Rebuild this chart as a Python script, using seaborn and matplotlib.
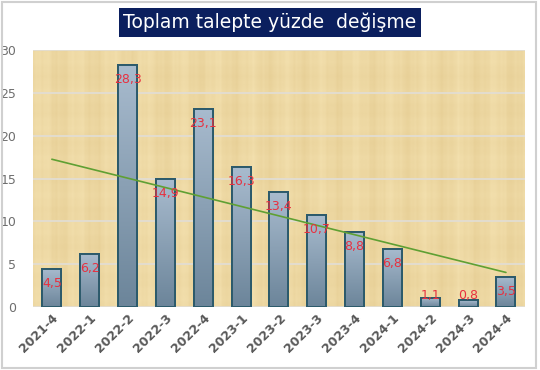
import numpy as np
import pandas as pd
import matplotlib
matplotlib.use('Agg')
import matplotlib.pyplot as plt
import seaborn as sns
from matplotlib.colors import LinearSegmentedColormap
from matplotlib.patches import Rectangle

# data
periods = ['2021-4', '2022-1', '2022-2', '2022-3', '2022-4', '2023-1', '2023-2',
           '2023-3', '2023-4', '2024-1', '2024-2', '2024-3', '2024-4']
change = [4.5, 6.2, 28.3, 14.9, 23.1, 16.3, 13.4, 10.7, 8.8, 6.8, 1.1, 0.8, 3.5]
title = 'Toplam talepte yüzde  değişme'

df = pd.DataFrame({'period': periods, 'change': change})
df['pos'] = np.arange(len(df))

sns.set_theme(style='white')
plt.rcParams['font.family'] = ['DejaVu Sans']

fig = plt.figure(figsize=(5.4, 3.7), dpi=100)
ax = fig.add_axes([0.061, 0.170, 0.911, 0.695])

ax.set_facecolor('#F0DBA4')
# faint papyrus-like streaks
cols = np.arange(240)
rows = np.arange(90)
streak = (np.sin(cols * 0.37) + np.sin(cols * 1.13) * 0.6 + np.sin(cols * 2.71) * 0.4)
band = (np.sin(rows * 0.53) + np.sin(rows * 1.9) * 0.5)
weave = streak[None, :] * 0.7 + band[:, None] * 0.3
paper = LinearSegmentedColormap.from_list('paper', ['#E7CF96', '#F3E0AE'])
ax.imshow(weave, cmap=paper, aspect='auto', extent=(-0.5, 12.5, 0, 30),
          zorder=0, interpolation='bilinear')

sns.barplot(data=df, x='period', y='change', color='#8FA6BC', width=0.5,
            edgecolor='#2C5A6B', linewidth=1.4, saturation=1, ax=ax, zorder=3)

# vertical gradient inside the bars
grad = LinearSegmentedColormap.from_list('bar', ['#6C859A', '#A8BBCE'])
g = np.linspace(0, 1, 100).reshape(-1, 1)
for p in ax.patches:
    x0, y0 = p.get_x(), p.get_y()
    w, h = p.get_width(), p.get_height()
    im = ax.imshow(g, cmap=grad, aspect='auto', origin='lower',
                   extent=(x0, x0 + w, y0, y0 + h), zorder=3.5)
    im.set_clip_path(p)
    border = Rectangle((x0, y0), w, h, fill=False, edgecolor='#2C5A6B',
                       linewidth=1.4, zorder=4)
    ax.add_patch(border)

# trend line
sns.regplot(x=df['pos'], y=df['change'], scatter=False, ci=None, ax=ax,
            line_kws=dict(color='#5FA033', linewidth=1.2, zorder=5), truncate=True)

for i, v in enumerate(change):
    ax.text(i, max(v - 1.7, 1.3), f'{v:.1f}'.replace('.', ','), ha='center',
            va='center', color='#E8303F', fontsize=9, zorder=6)

ax.set_xlim(-0.5, 12.5)
ax.set_ylim(0, 30)
ax.set_yticks(range(0, 31, 5))
ax.grid(axis='y', color='#E2DDD2', linewidth=1.3, zorder=1)
ax.set_axisbelow(True)
for s in ax.spines.values():
    s.set_visible(False)
ax.set_xlabel('')
ax.set_ylabel('')
ax.tick_params(axis='y', colors='#6E6E6E', labelsize=9, length=0, pad=12)
ax.tick_params(axis='x', colors='#595959', labelsize=9, length=0, pad=3)
plt.setp(ax.get_xticklabels(), rotation=45, ha='right', rotation_mode='anchor',
         fontweight='bold')

fig.text(0.5, 0.94, title, ha='center', va='center', color='white', fontsize=13.5,
         bbox=dict(boxstyle='square,pad=0.25', facecolor='#0B1F5E', edgecolor='none'))

fig.patches.append(Rectangle((0.003, 0.005), 0.990, 0.99, transform=fig.transFigure,
                             fill=False, edgecolor='#D0D0D0', linewidth=1.5))

fig.savefig('out.png', dpi=100)
